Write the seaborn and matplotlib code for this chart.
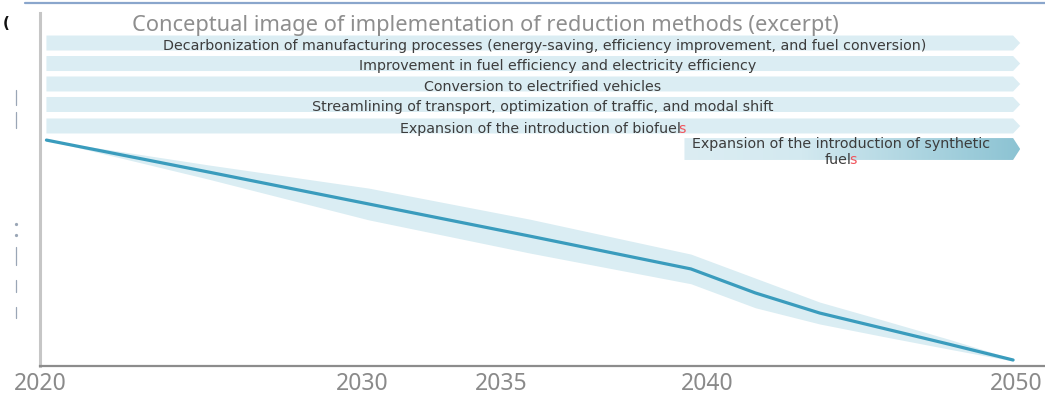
import numpy as np
import pandas as pd
import matplotlib
matplotlib.use("Agg")
import matplotlib.pyplot as plt
import matplotlib.transforms as mtransforms
import seaborn as sns
from matplotlib.offsetbox import TextArea, HPacker, VPacker, AnnotationBbox
from matplotlib.patches import Polygon
from matplotlib.lines import Line2D
from matplotlib.colors import LinearSegmentedColormap

# ---------------- data ----------------
years = [2020, 2025, 2030, 2035, 2040, 2042, 2044, 2046, 2048, 2050]
emissions = [64.0, 55.0, 45.9, 36.8, 27.5, 20.7, 15.0, 10.6, 6.2, 1.7]
band_upper = [64.0, 57.0, 50.4, 41.6, 31.7, 24.9, 18.1, 12.9, 7.6, 2.0]
band_lower = [64.0, 53.0, 41.4, 32.0, 23.3, 16.5, 11.9, 8.3, 4.8, 1.4]

tick_labels = ["2020", "2030", "2035", "2040", "2050"]
tick_positions = [2019.8, 2029.8, 2034.1, 2040.5, 2050.1]

title = "Conceptual image of implementation of reduction methods (excerpt)"

methods = [
    "Decarbonization of manufacturing processes (energy-saving, efficiency improvement, and fuel conversion)",
    "Improvement in fuel efficiency and electricity efficiency",
    "Conversion to electrified vehicles",
    "Streamlining of transport, optimization of traffic, and modal shift",
    "Expansion of the introduction of biofuel",
    "Expansion of the introduction of synthetic\nfuel",
]
method_tails = ["", "", "", "", "s", "s"]   # trailing letter shown in red
method_start = [2020, 2020, 2020, 2020, 2020, 2039.8]
method_end = [2050, 2050, 2050, 2050, 2050, 2050]

# ---------------- style ----------------
sns.set_theme(style="white")
plt.rcParams["font.family"] = ["DejaVu Sans"]

W, H, DPI = 1045, 397, 100
fig = plt.figure(figsize=(W / DPI, H / DPI), dpi=DPI)
ax = fig.add_axes([40 / W, 31 / H, 1005 / W, 353 / H])

LINE_C = "#3a9cbd"
BAND_C = "#daedf3"
ARROW_C = "#dbedf3"
TEXT_C = "#3c3c3c"
RED_C = "#f0545c"

df = pd.DataFrame({"year": years, "emissions": emissions,
                   "upper": band_upper, "lower": band_lower})

ax.fill_between(df["year"], df["lower"], df["upper"], color=BAND_C, lw=0, zorder=1)
sns.lineplot(data=df, x="year", y="emissions", ax=ax, color=LINE_C, lw=2.3,
             zorder=3, solid_capstyle="round", solid_joinstyle="round")

ax.set_xlim(2019.81, 2050.99)
ax.set_ylim(0, 100)
ax.set_xlabel("")
ax.set_ylabel("")
ax.set_yticks([])
ax.set_xticks(tick_positions)
ax.set_xticklabels(tick_labels, family="Noto Sans", fontsize=16.5, color="#8a8a8a")
ax.tick_params(axis="x", length=0, pad=4)

for s in ["top", "right"]:
    ax.spines[s].set_visible(False)
ax.spines["left"].set_color("#c6c6c6")
ax.spines["left"].set_linewidth(2.2)
ax.spines["bottom"].set_color("#8c8c8c")
ax.spines["bottom"].set_linewidth(1.6)

# ---------------- method arrows ----------------
blend = mtransforms.blended_transform_factory(ax.transData, ax.transAxes)
row_y = [0.9150, 0.8569, 0.7989, 0.7408, 0.6799, 0.6147]
row_h = [0.0425] * 5 + [0.062]
text_x = [0.5025, 0.5154, 0.5005, 0.5005, 0.5005, 0.797]
text_dy = [-0.008] * 5 + [-0.008]
head = 0.22
FS = 10.3

grad_cmap = LinearSegmentedColormap.from_list(
    "g", [(0.0, "#dcedf3"), (0.35, "#d3e9f0"), (1.0, "#8cc3d3")])

for i, (lab, tail, x0, x1) in enumerate(zip(methods, method_tails, method_start, method_end)):
    y, hh = row_y[i], row_h[i] / 2
    pts = [(x0, y - hh), (x1, y - hh), (x1 + head, y), (x1, y + hh), (x0, y + hh)]
    if i < 5:
        poly = Polygon(pts, closed=True, transform=blend, facecolor=ARROW_C,
                       edgecolor="none", zorder=2, clip_on=False)
        ax.add_patch(poly)
    else:
        poly = Polygon(pts, closed=True, transform=blend, facecolor="none",
                       edgecolor="none", zorder=2, clip_on=False)
        ax.add_patch(poly)
        grad = np.linspace(0, 1, 256).reshape(1, -1)
        im = ax.imshow(grad, cmap=grad_cmap, aspect="auto", transform=blend,
                       extent=(x0, x1 + head, y - hh, y + hh), zorder=2,
                       interpolation="bilinear")
        im.set_clip_path(poly)

    lines = lab.split("\n")
    tp = dict(color=TEXT_C, fontsize=FS, family="DejaVu Sans")
    rp = dict(color=RED_C, fontsize=FS, family="DejaVu Sans")
    boxes = []
    for j, ln in enumerate(lines):
        if j == len(lines) - 1 and tail:
            boxes.append(HPacker(children=[TextArea(ln, textprops=tp),
                                           TextArea(tail, textprops=rp)],
                                 align="baseline", pad=0, sep=-1.8))
        else:
            boxes.append(TextArea(ln, textprops=tp))
    box = boxes[0] if len(boxes) == 1 else VPacker(children=boxes, align="center", pad=0, sep=1.5)
    ab = AnnotationBbox(box, (text_x[i], y + text_dy[i]), xycoords="axes fraction",
                        box_alignment=(0.5, 0.5), frameon=False, pad=0, zorder=5,
                        annotation_clip=False)
    ax.add_artist(ab)

# ---------------- title ----------------
ax.text(0.4433, 0.949, title, transform=ax.transAxes, ha="center", va="baseline",
        family="Noto Sans", fontsize=15.7, color="#8e8e8e", zorder=6)

# ---------------- page decorations ----------------
fig.add_artist(Line2D([25 / W, 1.0], [1 - 3 / H, 1 - 3 / H], color="#8aa6cc", lw=1.6))
fig.text(6 / W, 1 - 24 / H, "(", fontsize=11, color="#111111", ha="center", va="center",
         fontweight="bold")
for (ya, yb) in [(90, 105), (112, 128), (247, 265), (280, 292), (307, 318)]:
    fig.add_artist(Line2D([16 / W, 16 / W], [1 - ya / H, 1 - yb / H], color="#9aa6b6", lw=0.9))
for yd in [224, 235]:
    fig.add_artist(Line2D([16 / W], [1 - yd / H], marker="o", ms=1.3, color="#9aa6b6", lw=0))

fig.savefig("out.png", dpi=DPI)
